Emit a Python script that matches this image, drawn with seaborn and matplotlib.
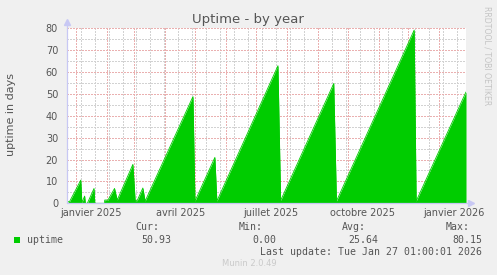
import matplotlib
matplotlib.use("Agg")
import matplotlib.pyplot as plt
from matplotlib.patches import Rectangle
import seaborn as sns
import pandas as pd

# ---------------- data ----------------
dates = [
    "2024-12-24 09:00", "2024-12-26 00:00", "2025-01-06 03:00", "2025-01-07 05:00",
    "2025-01-10 00:00", "2025-01-10 17:00", "2025-01-12 17:00", "2025-01-19 10:00",
    "2025-01-20 05:00", "2025-01-29 17:00", "2025-01-30 05:00", "2025-02-02 10:00",
    "2025-02-09 00:00", "2025-02-11 17:00", "2025-02-27 10:00", "2025-03-01 17:00",
    "2025-03-03 17:00", "2025-03-09 10:00", "2025-03-11 17:00", "2025-04-28 17:00",
    "2025-04-30 17:00", "2025-05-20 17:00", "2025-05-22 17:00", "2025-07-23 00:00",
    "2025-07-25 17:00", "2025-09-17 00:00", "2025-09-19 17:00", "2025-12-06 17:00",
    "2025-12-08 17:00", "2026-01-27 17:00",
]
uptime = [
    0.7, 0.9, 10.6, 0.3,
    3.3, 0.0, 0.0, 6.8,
    0.0, 0.0, 1.5, 1.5,
    6.8, 1.5, 17.8, 1.2,
    1.2, 7.0, 1.0, 48.8,
    1.0, 21.0, 1.0, 62.9,
    1.3, 54.8, 1.0, 79.2,
    1.0, 50.9,
]
x_start, x_end = "2024-12-24 09:00", "2026-01-27 17:00"
y_ticks = [0, 10, 20, 30, 40, 50, 60, 70, 80]
y_minor = [5, 15, 25, 35, 45, 55, 65, 75]
x_label_dates = ["2025-01-16", "2025-04-16", "2025-07-16", "2025-10-16", "2026-01-16"]
x_labels = ["janvier 2025", "avril 2025", "juillet 2025", "octobre 2025", "janvier 2026"]
legend_name = "uptime"
stat_names = ["Cur:", "Min:", "Avg:", "Max:"]
stat_values = ["50.93", "0.00", "25.64", "80.15"]
last_update = "Last update: Tue Jan 27 01:00:01 2026"

df = pd.DataFrame({"date": pd.to_datetime(dates), "uptime": uptime})

# ---------------- style ----------------
W, H = 497, 275
BG = "#F0F0F0"
GREEN = "#00CC00"
MAJ = "#EAB0B0"
MIN = "#D2D2D2"
AXC = "#C8C8F4"
TXT = "#555555"

sns.set_style("white")
plt.rcParams["font.family"] = ["DejaVu Sans"]

fig = plt.figure(figsize=(W / 100, H / 100), dpi=100, facecolor=BG)
L, R, T, B = 66.7, 466.0, 28.3, 203.3
ax = fig.add_axes([L / W, 1 - B / H, (R - L) / W, (B - T) / H])
ax.set_facecolor("white")

def fx(x):
    return x / W

def fy(y):
    return 1 - y / H

x0, x1 = pd.Timestamp(x_start), pd.Timestamp(x_end)
ax.set_xlim(x0, x1)
ax.set_ylim(0, 80)

month_starts = pd.date_range("2025-01-01", "2026-01-01", freq="MS")
biweekly = pd.date_range("2024-12-23", "2026-01-27", freq="14D")
ax.set_xticks(month_starts)
ax.set_xticks(biweekly, minor=True)
ax.set_xticklabels([])
ax.set_yticks(y_ticks)
ax.set_yticks(y_minor, minor=True)
ax.set_yticklabels([str(v) for v in y_ticks])

dash = (0, (1, 1))
ax.grid(which="minor", color=MIN, linestyle=dash, linewidth=0.75, zorder=0,
        antialiased=False)
ax.grid(which="major", color=MAJ, linestyle=dash, linewidth=0.75, zorder=0,
        antialiased=False)
ax.set_axisbelow(True)

ax.tick_params(axis="both", which="major", length=2.2, width=0.72, color=MAJ,
               labelsize=7, labelcolor=TXT, pad=3)
ax.tick_params(axis="both", which="minor", length=2.2, width=0.72, color=MIN)
ax.tick_params(axis="y", which="major", pad=4)

for s in ax.spines.values():
    s.set_visible(False)

# data
ax.fill_between(df["date"], df["uptime"], 0, color=GREEN, linewidth=0, zorder=2)
sns.lineplot(data=df, x="date", y="uptime", ax=ax, color=GREEN, linewidth=0.6,
             zorder=3, legend=False)
ax.set_xlabel("")
ax.set_ylabel("")

# axes lines with arrows
ax.plot([0, 0], [0, 1.035], transform=ax.transAxes, color=AXC, lw=0.9,
        clip_on=False, zorder=4)
ax.plot([0], [1.035], marker="^", markersize=4.5, color=AXC, transform=ax.transAxes,
        clip_on=False, zorder=4)
ax.plot([0, 1.012], [0, 0], transform=ax.transAxes, color=AXC, lw=0.9,
        clip_on=False, zorder=4)
ax.plot([1.012], [0], marker=">", markersize=4.5, color=AXC, transform=ax.transAxes,
        clip_on=False, zorder=4)

# x labels at mid-month
ylab = -(212.5 - B) / (B - T)
for d, lab in zip(x_label_dates, x_labels):
    ax.text(pd.Timestamp(d), ylab, lab, transform=ax.get_xaxis_transform(),
            ha="center", va="center", fontsize=7, color=TXT)

# titles and labels
fig.text(fx(248), fy(19.5), "Uptime - by year", ha="center", va="center",
         fontsize=9.5, color=TXT)
fig.text(fx(11), fy(115), "uptime in days", rotation=90, ha="center", va="center",
         fontsize=8, color=TXT)
fig.text(fx(487.5), fy(56), "RRDTOOL / TOBI OETIKER", rotation=270, ha="center",
         va="center", fontsize=5.6, color="#C4C4C4")

# legend
mono = "DejaVu Sans Mono"
fig.patches.append(Rectangle((fx(14), fy(243)), 6 / W, 6 / H, transform=fig.transFigure,
                             facecolor=GREEN, edgecolor="none"))
fig.text(fx(26.7), fy(240), legend_name, ha="left", va="center", family=mono,
         fontsize=7.1, color=TXT)
name_right = [159, 263, 366, 470]
val_right = [171.7, 276, 378, 482]
for n, v, xn, xv in zip(stat_names, stat_values, name_right, val_right):
    fig.text(fx(xn), fy(227.5), n, ha="right", va="center", family=mono,
             fontsize=7.1, color=TXT)
    fig.text(fx(xv), fy(240), v, ha="right", va="center", family=mono,
             fontsize=7.1, color=TXT)
fig.text(fx(482.5), fy(252), last_update, ha="right", va="center", family=mono,
         fontsize=7.1, color=TXT)
fig.text(fx(249), fy(264), "Munin 2.0.49", ha="center", va="center",
         fontsize=6, color="#CACACA")

fig.savefig("out.png", dpi=100, facecolor=BG)
